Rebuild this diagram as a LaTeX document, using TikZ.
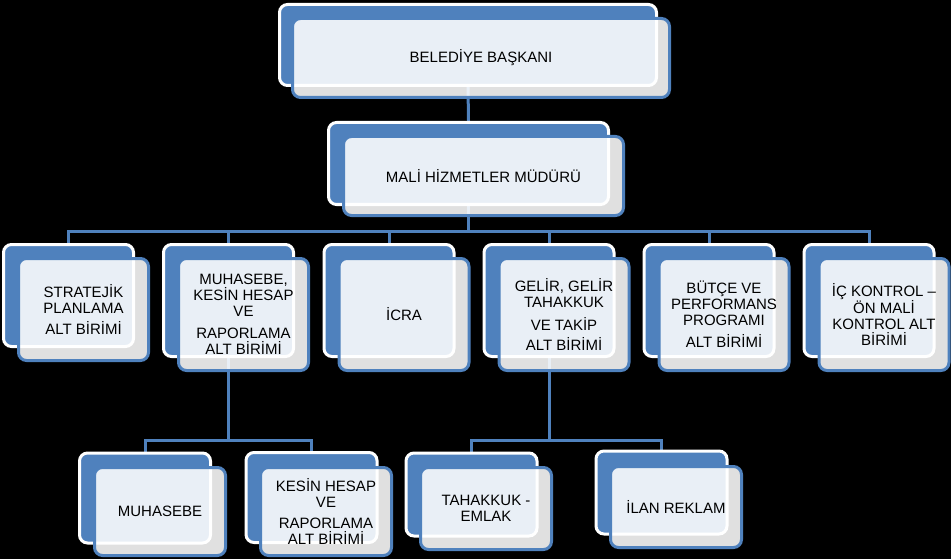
\documentclass[tikz,border=0pt]{standalone}
\usepackage{fontspec}
\setmainfont{Liberation Sans}
\definecolor{acc}{HTML}{4F81BD}
\pgfdeclarelayer{bg}
\pgfdeclarelayer{conn}
\pgfsetlayers{bg,conn,main}
\tikzset{
  backbox/.style={draw=white, line width=3pt, fill=acc, rounded corners=8pt, inner sep=0pt},
  frontbox/.style={draw=acc, line width=3pt, fill=white, fill opacity=0.88, text opacity=1,
    rounded corners=8pt, inner sep=0pt, align=center, text=black,
    font=\fontsize{15}{16}\selectfont},
  conn/.style={draw=acc, line width=3pt},
}
\newcommand\backunit[5]{\node[backbox, minimum width=#4pt, minimum height=#5pt] (#1) at (#2,#3) {};}
\newcommand\frontunit[6]{\node[frontbox, minimum width=#4pt, minimum height=#5pt] (#1) at (#2,#3) {#6};}
\begin{document}
\begin{tikzpicture}[x=1pt,y=-1pt]
\begin{pgfonlayer}{bg}
\fill[black] (0,0) rectangle (951,559);
\end{pgfonlayer}
\useasboundingbox (0,0) rectangle (951,559);
% back boxes
\backunit{Tb}{468}{45}{377}{81}
\backunit{Mb}{468.5}{163.5}{280}{82}
\backunit{R1b}{68.5}{295.5}{130}{102}
\backunit{R2b}{228.5}{300.5}{130}{112}
\backunit{R3b}{389}{300.5}{130}{112}
\backunit{R4b}{549}{300.5}{130}{112}
\backunit{R5b}{709}{300.5}{130}{112}
\backunit{R6b}{869}{300.5}{130}{112}
\backunit{S1b}{145}{498}{131}{90}
\backunit{S2b}{311.5}{497.5}{131}{90}
\backunit{S3b}{471.5}{494.5}{131}{83}
\backunit{S4b}{661.5}{492.5}{131}{83}
% connectors
\begin{pgfonlayer}{conn}
\coordinate (bus) at (468.5,231);
\coordinate (busA) at (228.5,440);
\coordinate (busB) at (549,440);
\draw[conn] (Tb.south) -- (Mb.north);
\draw[conn] (Mb.south) -- (bus);
\foreach \n in {R1b,R2b,R3b,R4b,R5b,R6b} \draw[conn] (bus) -| (\n.north);
\draw[conn] (R2b.south) -- (busA);
\draw[conn] (busA) -| (S1b.north);
\draw[conn] (busA) -| (S2b.north);
\draw[conn] (R4b.south) -- (busB);
\draw[conn] (busB) -| (S3b.north);
\draw[conn] (busB) -| (S4b.north);
\end{pgfonlayer}
% front boxes
\frontunit{Tf}{481}{58}{377}{79}{BELEDİYE BAŞKANI}
\frontunit{Mf}{483.5}{176}{280}{79}{MALİ HİZMETLER MÜDÜRÜ}
\frontunit{R1f}{83.5}{309.5}{130}{102}{STRATEJİK\\PLANLAMA\\[5pt]ALT BİRİMİ}
\frontunit{R2f}{243.5}{314.5}{130}{112}{MUHASEBE,\\KESİN HESAP\\VE\\[6pt]RAPORLAMA\\ALT BİRİMİ}
\frontunit{R3f}{404}{314.5}{130}{112}{İCRA}
\frontunit{R4f}{564}{314.5}{130}{112}{GELİR, GELİR\\TAHAKKUK\\[7pt]VE TAKİP\\[4pt]ALT BİRİMİ}
\frontunit{R5f}{724}{314.5}{130}{112}{BÜTÇE VE\\PERFORMANS\\PROGRAMI\\[6pt]ALT BİRİMİ}
\frontunit{R6f}{884}{314.5}{130}{112}{İÇ KONTROL –\\ÖN MALİ\\KONTROL ALT\\BİRİMİ}
\frontunit{S1f}{160}{511.5}{131}{88}{MUHASEBE}
\frontunit{S2f}{326}{511.5}{131}{88}{KESİN HESAP\\VE\\[5pt]RAPORLAMA\\ALT BİRİMİ}
\frontunit{S3f}{486}{508.5}{131}{82}{TAHAKKUK -\\EMLAK}
\frontunit{S4f}{676}{507}{131}{81}{İLAN REKLAM}
\end{tikzpicture}
\end{document}
